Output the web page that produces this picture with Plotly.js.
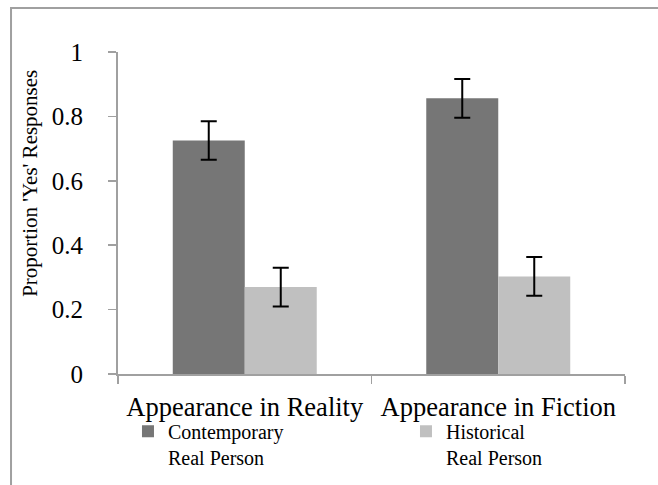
<!DOCTYPE html>
<html>
<head>
<meta charset="utf-8">
<script src="https://cdn.plot.ly/plotly-3.0.1.min.js"></script>
<style>
  html, body { margin: 0; padding: 0; background: #ffffff; }
  #chart { width: 658px; height: 485px; }
</style>
</head>
<body>
<div id="chart"></div>
<script>
// ---- data ----
const categories = ["Appearance in Reality", "Appearance in Fiction"];
const seriesNames = ["Contemporary<br>Real Person", "Historical<br>Real Person"];
const contemporaryValues = [0.725, 0.856];
const contemporaryErrors = [0.06, 0.06];
const historicalValues = [0.270, 0.303];
const historicalErrors = [0.06, 0.06];
const yTickValues = [0, 0.2, 0.4, 0.6, 0.8, 1];
const yTickLabels = ["0", "0.2", "0.4", "0.6", "0.8", "1"];
const yTitle = "Proportion 'Yes' Responses";

const serif = "'Liberation Serif', 'Times New Roman', serif";
const axisGray = "#a0a0a0";

const traces = [
  {
    type: "bar",
    name: seriesNames[0],
    x: categories,
    y: contemporaryValues,
    legend: "legend",
    marker: { color: "#767676", line: { width: 0 } },
    error_y: { type: "data", array: contemporaryErrors, visible: true, color: "#000000", thickness: 2, width: 8 }
  },
  {
    type: "bar",
    name: seriesNames[1],
    x: categories,
    y: historicalValues,
    legend: "legend2",
    marker: { color: "#c0c0c0", line: { width: 0 } },
    error_y: { type: "data", array: historicalErrors, visible: true, color: "#000000", thickness: 2, width: 8 }
  }
];

function legendBox(xFrac) {
  return {
    orientation: "h",
    xref: "container",
    yref: "container",
    x: xFrac,
    xanchor: "left",
    y: 0.151,
    yanchor: "top",
    valign: "top",
    font: { family: serif, size: 20, color: "#000000" },
    bgcolor: "rgba(0,0,0,0)",
    borderwidth: 0
  };
}

const layout = {
  width: 658,
  height: 485,
  margin: { l: 118, r: 33, t: 52, b: 111, pad: 0 },
  paper_bgcolor: "#ffffff",
  plot_bgcolor: "#ffffff",
  font: { family: serif, color: "#000000" },
  barmode: "group",
  bargap: 0.432,
  bargroupgap: 0,
  showlegend: true,
  legend: legendBox(0.1945),
  legend2: legendBox(0.617),
  xaxis: {
    type: "category",
    tickson: "boundaries",
    ticks: "outside",
    ticklen: 8,
    tickwidth: 1.5,
    tickcolor: axisGray,
    showline: true,
    linecolor: axisGray,
    linewidth: 2,
    showgrid: false,
    zeroline: false,
    tickangle: 0,
    ticklabelstandoff: 8,
    tickfont: { family: serif, size: 26.5, color: "#000000" },
    fixedrange: true
  },
  yaxis: {
    range: [0, 1],
    tickvals: yTickValues,
    ticktext: yTickLabels,
    ticks: "outside",
    ticklen: 8,
    tickwidth: 1.5,
    tickcolor: axisGray,
    showline: true,
    linecolor: axisGray,
    linewidth: 2,
    showgrid: false,
    zeroline: false,
    ticklabelstandoff: 20,
    tickfont: { family: serif, size: 25, color: "#000000" },
    fixedrange: true
  },
  annotations: [
    {
      text: yTitle,
      xref: "paper", yref: "paper",
      x: -0.174, y: 0.593,
      xanchor: "center", yanchor: "middle",
      textangle: -90,
      showarrow: false,
      font: { family: serif, size: 21, color: "#000000" }
    }
  ],
  shapes: [
    {
      type: "path",
      xref: "paper", yref: "paper",
      path: "M -0.211 -0.5 L -0.211 1.1366 L 1.2 1.1366",
      line: { color: "#a0a0a0", width: 2 },
      layer: "below"
    }
  ]
};

Plotly.newPlot("chart", traces, layout, { displayModeBar: false, staticPlot: true });
</script>
</body>
</html>
